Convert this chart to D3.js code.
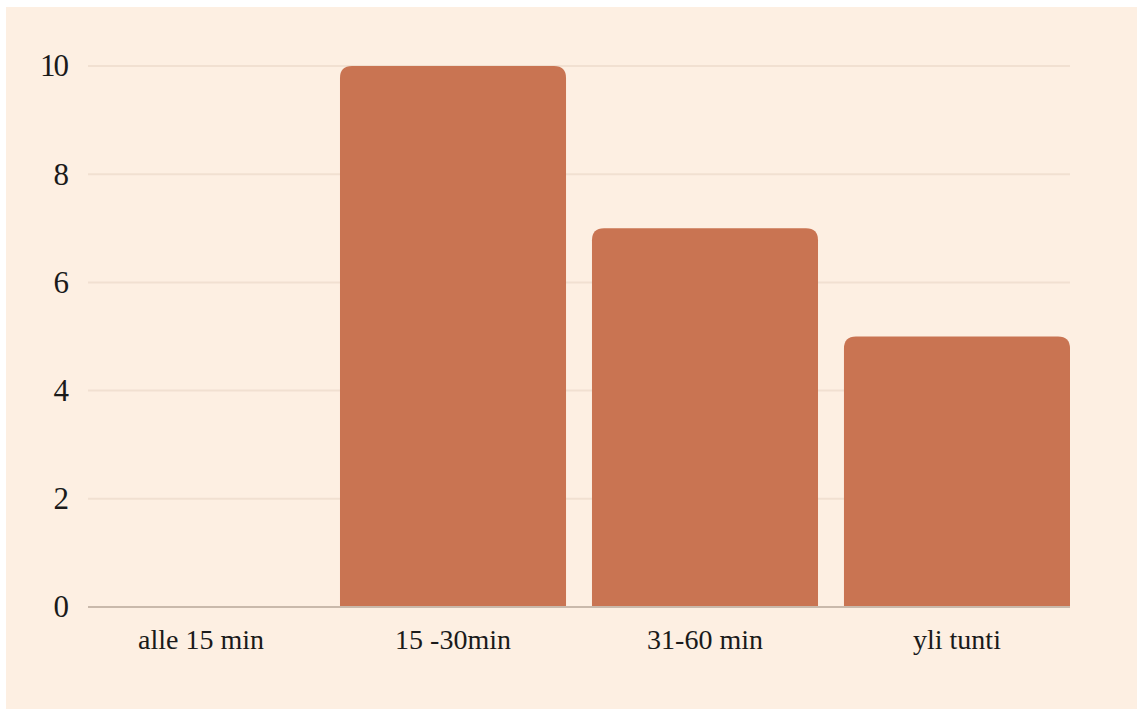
<!DOCTYPE html>
<html>
<head>
<meta charset="utf-8">
<script src="https://cdn.jsdelivr.net/npm/d3@7"></script>
<style>
  body { margin: 0; background: #ffffff; }
</style>
</head>
<body>
<svg width="1139" height="711"></svg>
<script>
var categories = ["alle 15 min", "15 -30min", "31-60 min", "yli tunti"];
var values = [0, 10, 7, 5];
var yTicks = [0, 2, 4, 6, 8, 10];

var svg = d3.select("svg"),
  width = +svg.attr("width"),
  height = +svg.attr("height");

var font = "'Liberation Serif', 'Times New Roman', serif";

// peach panel
svg.append("rect")
  .attr("x", 6).attr("y", 7)
  .attr("width", width - 8).attr("height", height - 9)
  .attr("fill", "#fdefe2");

var xScale = d3.scaleBand()
  .domain(categories)
  .range([88, 1070])
  .paddingInner(0.103)
  .paddingOuter(0);

var yScale = d3.scaleLinear()
  .domain([0, 10])
  .range([607, 66]);

// gridlines
svg.append("g")
  .selectAll("line")
  .data(yTicks.filter(function (d) { return d > 0; }))
  .enter()
  .append("line")
  .attr("x1", 88)
  .attr("x2", 1070)
  .attr("y1", function (d) { return yScale(d); })
  .attr("y2", function (d) { return yScale(d); })
  .attr("stroke", "#f1e0d1")
  .attr("stroke-width", 2);

// y axis labels
var yAxis = d3.axisLeft(yScale).tickValues(yTicks).tickSize(0).tickPadding(0);
var gy = svg.append("g").attr("transform", "translate(67,0)").call(yAxis);
gy.select(".domain").remove();
gy.selectAll("text")
  .attr("font-family", font)
  .attr("font-size", 31)
  .attr("letter-spacing", -2)
  .attr("fill", "#1a1a1a");

// bars with rounded tops
var r = 12;
function barPath(d, i) {
  var x0 = xScale(categories[i]),
    x1 = x0 + xScale.bandwidth(),
    y0 = yScale(0),
    y1 = yScale(d);
  if (d <= 0) return "";
  return "M" + x0 + "," + y0 +
    "V" + (y1 + r) +
    "Q" + x0 + "," + y1 + " " + (x0 + r) + "," + y1 +
    "H" + (x1 - r) +
    "Q" + x1 + "," + y1 + " " + x1 + "," + (y1 + r) +
    "V" + y0 + "Z";
}
svg.append("g")
  .selectAll("path")
  .data(values)
  .enter()
  .append("path")
  .attr("d", barPath)
  .attr("fill", "#c97452");

// baseline
svg.append("line")
  .attr("x1", 88).attr("x2", 1070)
  .attr("y1", yScale(0)).attr("y2", yScale(0))
  .attr("stroke", "#c9b9ab")
  .attr("stroke-width", 2);

// x axis labels
var xAxis = d3.axisBottom(xScale).tickSize(0).tickPadding(0);
var gx = svg.append("g").attr("transform", "translate(0,629)").call(xAxis);
gx.select(".domain").remove();
gx.selectAll("text")
  .attr("font-family", font)
  .attr("font-size", 28)
  .attr("fill", "#1a1a1a");
</script>
</body>
</html>
